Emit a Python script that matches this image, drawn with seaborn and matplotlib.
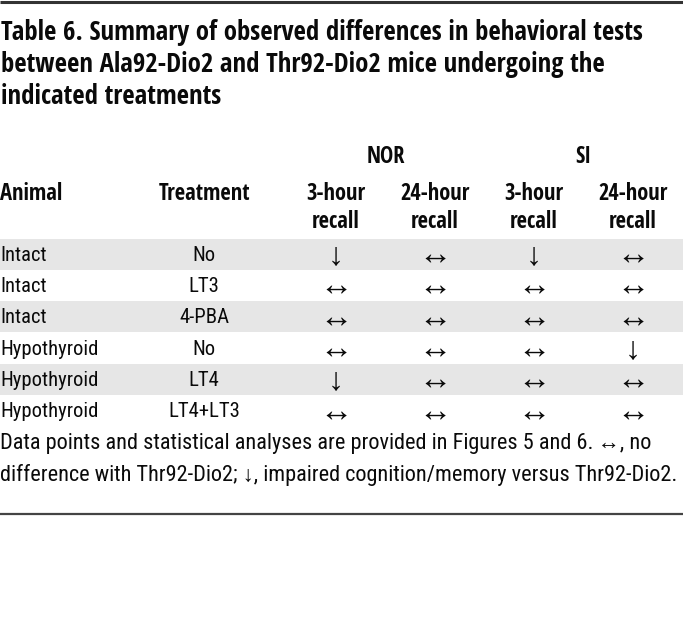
import matplotlib
matplotlib.use("Agg")
import matplotlib.pyplot as plt
from matplotlib import font_manager as fm
import seaborn as sns
import pandas as pd

sns.set_theme(style="white")
plt.rcParams['font.family'] = ['DejaVu Sans']

title_lines = ["Table 6. Summary of observed differences in behavioral tests",
               "between Ala92-Dio2 and Thr92-Dio2 mice undergoing the",
               "indicated treatments"]
groups = ["NOR", "SI"]
col_headers = ["3-hour\nrecall", "24-hour\nrecall", "3-hour\nrecall", "24-hour\nrecall"]
animals = ["Intact", "Intact", "Intact", "Hypothyroid", "Hypothyroid", "Hypothyroid"]
treatments = ["No", "LT3", "4-PBA", "No", "LT4", "LT4+LT3"]
nor_3h = ["↓", "↔", "↔", "↔", "↓", "↔"]
nor_24h = ["↔", "↔", "↔", "↔", "↔", "↔"]
si_3h = ["↓", "↔", "↔", "↔", "↔", "↔"]
si_24h = ["↔", "↔", "↔", "↓", "↔", "↔"]
footnote = ["Data points and statistical analyses are provided in Figures 5 and 6.\u2009↔, no",
            "difference with Thr92-Dio2; ↓, impaired cognition/memory versus Thr92-Dio2."]


def find_font(bold):
    best = None
    for f in fm.fontManager.ttflist:
        n = (f.name + " " + f.fname).lower()
        cond = ("condensed" in n or "narrow" in n or
                str(f.stretch) in ("condensed", "semi-condensed", "extra-condensed"))
        if not cond:
            continue
        isbold = (f.weight in ("bold", 700) or (isinstance(f.weight, int) and f.weight >= 600)
                  or "bold" in f.fname.lower())
        if isbold != bold or f.style != "normal":
            continue
        if not bold and ("light" in f.fname.lower() or "thin" in f.fname.lower()
                         or "medium" in f.fname.lower() or "black" in f.fname.lower()):
            continue
        score = 0
        if "dejavu" in n:
            score = 1
        if "liberation" in n or "roboto" in n or "noto" in n or "open" in n:
            score = 2
        if best is None or score > best[0]:
            best = (score, f)
    return best[1] if best else None


def make_fp(f, bold):
    fallback = ["Liberation Sans", "DejaVu Sans"]
    if f is None:
        return dict(family=fallback, weight="bold" if bold else "normal")
    return dict(family=[f.name] + fallback, weight=f.weight, stretch=f.stretch)


bold_kw = make_fp(find_font(True), True)
reg_kw = make_fp(find_font(False), False)
arrow_kw = dict(family=["Liberation Sans", "DejaVu Sans"])

W, H = 683, 632
fig = plt.figure(figsize=(W / 100, H / 100), dpi=100)
ax = fig.add_axes([0, 0, 1, 1])
ax.set_xlim(0, W)
ax.set_ylim(H, 0)
ax.axis("off")
renderer = fig.canvas.get_renderer()


def fit_size(text, kw, target_w, base=16):
    t = ax.text(0, 0, text, fontsize=base, **kw)
    w = t.get_window_extent(renderer).width
    t.remove()
    return base * target_w / w


# body stripes via seaborn heatmap
top, rowh = 238.5, 31.3
nrows = len(animals)
body_ax = fig.add_axes([0, 1 - (top + rowh * nrows) / H, 1, rowh * nrows / H])
stripes = pd.DataFrame({"s": [1 if i % 2 == 0 else 0 for i in range(nrows)]})
sns.heatmap(stripes, ax=body_ax, cmap=["#ffffff", "#e6e6e6"], cbar=False,
            xticklabels=False, yticklabels=False, linewidths=0)
body_ax.axis("off")
body_ax.set_zorder(0)
ax.set_zorder(1)
ax.patch.set_alpha(0)

txt = "#0a0a0a"
ax.plot([0, W], [2, 2], color="#333333", lw=2.2, solid_capstyle="butt")
ax.plot([0, W], [514, 514], color="#444444", lw=1.6, solid_capstyle="butt")

ts = fit_size(title_lines[0], bold_kw, 642)
for i, line in enumerate(title_lines):
    ax.text(1, 32 + i * 32.5, line, fontsize=ts, va="center", ha="left", color=txt, **bold_kw)

hs = fit_size("Treatment", bold_kw, 92)
ax.text(386, 157, groups[0], fontsize=hs, ha="center", va="center", color=txt, **bold_kw)
ax.text(583, 157, groups[1], fontsize=hs, ha="center", va="center", color=txt, **bold_kw)
ax.text(0, 194, "Animal", fontsize=hs, ha="left", va="center", color=txt, **bold_kw)
ax.text(204.5, 194, "Treatment", fontsize=hs, ha="center", va="center", color=txt, **bold_kw)
col_x = [336, 435, 534, 633]
for x, h in zip(col_x, col_headers):
    a, b = h.split("\n")
    ax.text(x, 194, a, fontsize=hs, ha="center", va="center", color=txt, **bold_kw)
    ax.text(x, 222, b, fontsize=hs, ha="center", va="center", color=txt, **bold_kw)

bs = fit_size("Hypothyroid", reg_kw, 98)
cols = [nor_3h, nor_24h, si_3h, si_24h]
for r in range(nrows):
    y = top + rowh * (r + 0.5) + 1
    ax.text(0, y, animals[r], fontsize=bs, ha="left", va="center", color=txt, **reg_kw)
    ax.text(204, y, treatments[r], fontsize=bs, ha="center", va="center", color=txt, **reg_kw)
    for x, col in zip(col_x, cols):
        s = col[r]
        ax.text(x, y + (1 if s == "↓" else 0), s, fontsize=23 if s == "↓" else 24,
                ha="center", va="center", color=txt, **arrow_kw)

fs = fit_size(footnote[1], reg_kw, 679)
for i, line in enumerate(footnote):
    ax.text(0, 443 + i * 32, line, fontsize=fs, ha="left", va="center", color=txt, **reg_kw)

fig.savefig("out.png", dpi=100)
